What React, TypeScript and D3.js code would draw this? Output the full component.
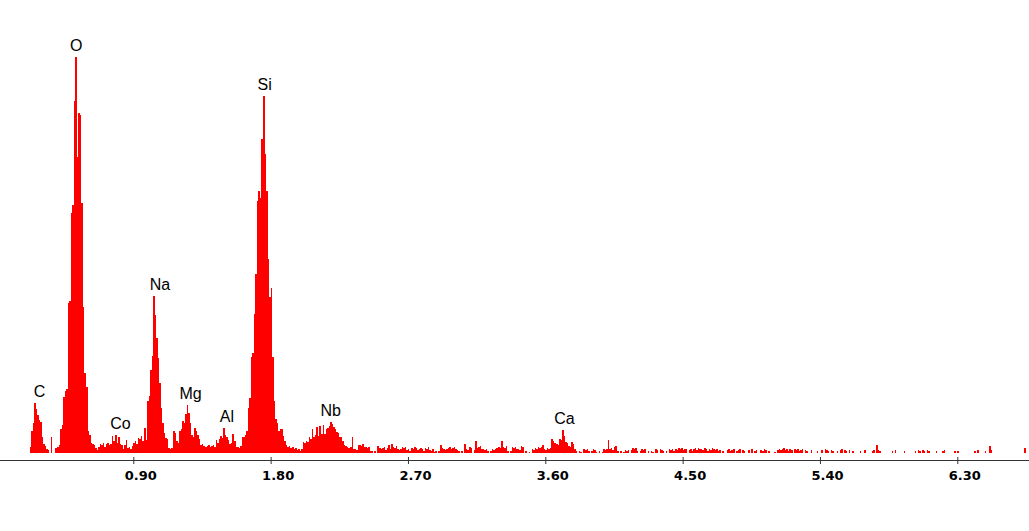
import { useEffect, useRef } from 'react';
import * as d3 from 'd3';

const WIDTH = 1029;
const HEIGHT = 531;

// spectrum is stored as 10 eV channels, the first stored channel is #22 (0.22 keV)
const channelWidth = 0.01;
const firstChannel = 22;

// 0.22 - 0.97 keV : C, O, Co
const countsLowEnergy = [
    6, 22, 30, 50, 44, 38, 33, 31, 16, 9,
    7, 4, 3, 0, 16, 0, 0, 5, 6, 8,
    24, 28, 56, 62, 64, 150, 152, 240, 248, 352,
    396, 296, 340, 338, 250, 146, 80, 66, 22, 18,
    10, 9, 8, 5, 3, 6, 9, 8, 10, 6,
    9, 10, 8, 9, 17, 12, 18, 10, 16, 9,
    8, 4, 8, 13, 5, 6, 4, 7, 10, 12,
    9, 15, 14, 17, 12, 25,
];

// 0.98 - 1.64 keV : Na, Mg, Al
const countsNaMgAl = [
    13, 52, 57, 83, 97, 157, 138, 115, 95, 70,
    45, 30, 20, 15, 14, 5, 4, 5, 22, 20,
    12, 10, 22, 24, 32, 30, 39, 48, 40, 30,
    18, 16, 25, 22, 18, 14, 8, 9, 7, 6,
    7, 8, 6, 7, 8, 6, 13, 10, 14, 17,
    15, 25, 18, 16, 13, 9, 10, 19, 12, 6,
    6, 5, 7, 16, 16, 18, 22,
];

// 1.65 - 2.00 keV : Si
const countsSi = [
    45, 55, 96, 100, 139, 179, 252, 262, 255, 314,
    357, 299, 262, 194, 156, 165, 96, 52, 34, 30,
    22, 24, 24, 17, 12, 8, 6, 7, 5, 6,
    4, 5, 3, 4, 2, 4,
];

// 2.01 - 3.00 keV : Nb
const countsNb = [
    11, 10, 12, 11, 16, 14, 24, 16, 18, 26,
    17, 27, 19, 28, 19, 24, 25, 27, 31, 29,
    26, 24, 21, 20, 16, 16, 12, 8, 7, 6,
    5, 6, 16, 4, 4, 3, 8, 8, 7, 9,
    6, 6, 5, 6, 2, 2, 0, 2, 0, 7,
    5, 4, 5, 6, 3, 5, 8, 4, 9, 6,
    5, 7, 4, 3, 4, 6, 5, 6, 3, 4,
    2, 5, 4, 6, 5, 3, 4, 5, 4, 2,
    5, 4, 6, 3, 2, 4, 1, 2, 0, 2,
    8, 5, 4, 3, 4, 5, 6, 4, 5, 6,
];

// 3.01 - 4.61 keV : Ca
const countsCa = [
    4, 3, 2, 0, 2, 0, 9, 4, 3, 6,
    5, 0, 3, 12, 5, 6, 7, 4, 4, 3,
    4, 2, 0, 2, 4, 3, 4, 5, 6, 5,
    12, 6, 5, 7, 2, 0, 2, 6, 5, 6,
    4, 4, 3, 7, 6, 0, 2, 0, 1, 0,
    4, 3, 5, 4, 6, 5, 6, 8, 4, 3,
    5, 4, 5, 14, 12, 10, 9, 8, 14, 13,
    23, 17, 11, 10, 7, 6, 11, 9, 4, 2,
    0, 2, 1, 0, 4, 3, 4, 2, 0, 2,
    4, 3, 1, 0, 2, 0, 1, 4, 3, 4,
    13, 4, 5, 3, 6, 7, 2, 0, 2, 0,
    1, 3, 2, 3, 0, 3, 5, 4, 5, 2,
    0, 2, 4, 3, 4, 0, 2, 0, 2, 1,
    0, 4, 3, 0, 4, 3, 2, 0, 2, 0,
    4, 3, 4, 2, 4, 3, 5, 4, 5, 3,
    4, 4, 0, 3, 4, 2, 4, 5, 3, 5,
    4,
];

// 4.62 - 6.76 keV : background
const countsHighEnergy = [
    4, 3, 5, 4, 2, 4, 3, 5, 4, 3,
    4, 2, 3, 0, 2, 0, 0, 3, 4, 2,
    3, 4, 0, 2, 3, 4, 0, 3, 2, 0,
    0, 3, 0, 4, 0, 2, 3, 0, 0, 3,
    2, 4, 3, 0, 2, 0, 0, 0, 1, 0,
    3, 4, 3, 4, 5, 3, 4, 2, 4, 3,
    0, 4, 3, 4, 2, 3, 4, 0, 3, 2,
    0, 0, 3, 0, 0, 0, 2, 0, 0, 3,
    0, 4, 3, 2, 0, 3, 2, 0, 0, 2,
    0, 3, 4, 0, 3, 2, 0, 3, 0, 2,
    0, 0, 0, 0, 2, 0, 0, 3, 0, 0,
    0, 0, 2, 3, 0, 8, 3, 2, 0, 0,
    0, 0, 0, 0, 0, 2, 0, 3, 0, 0,
    0, 0, 0, 2, 0, 0, 0, 0, 0, 0,
    2, 0, 3, 2, 0, 3, 2, 0, 3, 2,
    0, 0, 0, 0, 2, 0, 0, 0, 2, 3,
    0, 0, 0, 0, 0, 0, 2, 0, 2, 0,
    0, 0, 0, 0, 0, 0, 0, 0, 0, 2,
    0, 3, 0, 0, 0, 0, 2, 0, 0, 7,
    3, 0, 0, 0, 0, 0, 0, 0, 0, 0,
    0, 0, 0, 0, 0, 0, 0, 0, 0, 0,
    0, 0, 5, 0, 0,
];

const peakLabels = ['C', 'O', 'Co', 'Na', 'Mg', 'Al', 'Si', 'Nb', 'Ca'];
const peakEnergies = [0.286, 0.526, 0.816, 1.075, 1.275, 1.514, 1.761, 2.194, 3.725];

const tickValues = [0.9, 1.8, 2.7, 3.6, 4.5, 5.4, 6.3];

interface Channel {
    e: number;
    c: number;
}

export default function App() {
    const svgRef = useRef<SVGSVGElement>(null);

    useEffect(() => {
        if (!svgRef.current) return;

        const svg = d3.select(svgRef.current);
        svg.selectAll('*').remove();

        const counts = [
            ...countsLowEnergy,
            ...countsNaMgAl,
            ...countsSi,
            ...countsNb,
            ...countsCa,
            ...countsHighEnergy,
        ];
        const spectrum: Channel[] = counts.map((c, i) => ({ e: (firstChannel + i) * channelWidth, c }));
        // close the last step
        const last = spectrum[spectrum.length - 1];
        spectrum.push({ e: last.e + channelWidth, c: last.c });

        const x = d3.scaleLinear().domain([0.9, 6.3]).range([133.3, 957.3]);
        const y = d3.scaleLinear().domain([0, 400]).range([452.5, 52.5]);

        // spectrum
        const area = d3.area<Channel>()
            .x(d => x(d.e))
            .y0(y(0))
            .y1(d => y(d.c))
            .curve(d3.curveStepAfter);

        svg.append('path')
            .datum(spectrum)
            .attr('d', area)
            .attr('fill', '#ff0000')
            .attr('shape-rendering', 'crispEdges');

        // energy axis
        const axisY = 460.5;
        const axis = d3.axisBottom(x)
            .tickValues(tickValues)
            .tickFormat(d3.format('.2f'))
            .tickSizeOuter(0);

        const gAxis = svg.append('g')
            .attr('transform', `translate(0,${axisY})`)
            .call(axis)
            .attr('font-family', '"DejaVu Sans", Verdana, sans-serif')
            .attr('font-size', 13)
            .attr('font-weight', 'bold');

        gAxis.select('.domain').remove();
        gAxis.append('line')
            .attr('x1', 0)
            .attr('x2', WIDTH)
            .attr('y1', 0)
            .attr('y2', 0)
            .attr('stroke', '#333');

        gAxis.selectAll('.tick line')
            .attr('y1', -3.5)
            .attr('y2', 3.5)
            .attr('stroke', '#333');

        gAxis.selectAll('.tick text')
            .attr('x', 7)
            .attr('y', 19.5)
            .attr('dy', null)
            .attr('fill', '#000');

        // element labels above their peaks
        peakLabels.forEach((label, i) => {
            const e = peakEnergies[i];
            const near = spectrum.filter(d => Math.abs(d.e - e) <= 0.045);
            const top = d3.max(near, d => d.c) ?? 0;
            svg.append('text')
                .attr('x', x(e))
                .attr('y', y(top) - 5.5)
                .attr('text-anchor', 'middle')
                .attr('font-family', '"Liberation Sans", Arial, sans-serif')
                .attr('font-size', 16)
                .attr('fill', '#000')
                .text(label);
        });
    }, []);

    return (
        <svg
            ref={svgRef}
            width={WIDTH}
            height={HEIGHT}
            style={{ position: 'absolute', left: 0, top: 0, display: 'block', background: '#fff' }}
        />
    );
}
